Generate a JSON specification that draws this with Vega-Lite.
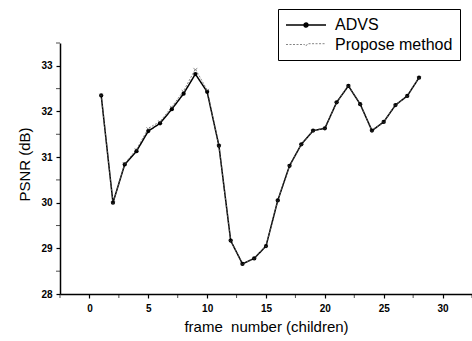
{
  "$schema": "https://vega.github.io/schema/vega-lite/v6.json",
  "autosize": {"type": "none"},
  "padding": {"left": 60, "top": 43, "right": 0, "bottom": 47},
  "width": 412,
  "height": 251,
  "background": "white",
  "config": {
    "view": {"stroke": null},
    "font": "Liberation Sans",
    "axis": {
      "domainColor": "black", "domainWidth": 1.5, "tickColor": "black", "tickWidth": 1.2,
      "labelColor": "black", "titleColor": "black", "grid": false,
      "labelFont": "Liberation Sans", "labelFontSize": 10, "labelFontWeight": "bold",
      "titleFont": "Liberation Sans", "titleFontSize": 15, "titleFontWeight": "normal"
    }
  },
  "data": {"values": [
    {"frame": 1, "psnr": 32.35, "series": "ADVS"},
    {"frame": 2, "psnr": 30.0, "series": "ADVS"},
    {"frame": 3, "psnr": 30.84, "series": "ADVS"},
    {"frame": 4, "psnr": 31.13, "series": "ADVS"},
    {"frame": 5, "psnr": 31.57, "series": "ADVS"},
    {"frame": 6, "psnr": 31.74, "series": "ADVS"},
    {"frame": 7, "psnr": 32.05, "series": "ADVS"},
    {"frame": 8, "psnr": 32.39, "series": "ADVS"},
    {"frame": 9, "psnr": 32.82, "series": "ADVS"},
    {"frame": 10, "psnr": 32.43, "series": "ADVS"},
    {"frame": 11, "psnr": 31.25, "series": "ADVS"},
    {"frame": 12, "psnr": 29.17, "series": "ADVS"},
    {"frame": 13, "psnr": 28.66, "series": "ADVS"},
    {"frame": 14, "psnr": 28.78, "series": "ADVS"},
    {"frame": 15, "psnr": 29.05, "series": "ADVS"},
    {"frame": 16, "psnr": 30.05, "series": "ADVS"},
    {"frame": 17, "psnr": 30.81, "series": "ADVS"},
    {"frame": 18, "psnr": 31.28, "series": "ADVS"},
    {"frame": 19, "psnr": 31.58, "series": "ADVS"},
    {"frame": 20, "psnr": 31.63, "series": "ADVS"},
    {"frame": 21, "psnr": 32.2, "series": "ADVS"},
    {"frame": 22, "psnr": 32.56, "series": "ADVS"},
    {"frame": 23, "psnr": 32.16, "series": "ADVS"},
    {"frame": 24, "psnr": 31.58, "series": "ADVS"},
    {"frame": 25, "psnr": 31.77, "series": "ADVS"},
    {"frame": 26, "psnr": 32.14, "series": "ADVS"},
    {"frame": 27, "psnr": 32.34, "series": "ADVS"},
    {"frame": 28, "psnr": 32.74, "series": "ADVS"},
    {"frame": 1, "psnr": 32.36, "series": "Propose method"},
    {"frame": 2, "psnr": 30.0, "series": "Propose method"},
    {"frame": 3, "psnr": 30.86, "series": "Propose method"},
    {"frame": 4, "psnr": 31.17, "series": "Propose method"},
    {"frame": 5, "psnr": 31.63, "series": "Propose method"},
    {"frame": 6, "psnr": 31.78, "series": "Propose method"},
    {"frame": 7, "psnr": 32.1, "series": "Propose method"},
    {"frame": 8, "psnr": 32.45, "series": "Propose method"},
    {"frame": 9, "psnr": 32.93, "series": "Propose method"},
    {"frame": 10, "psnr": 32.47, "series": "Propose method"},
    {"frame": 11, "psnr": 31.25, "series": "Propose method"},
    {"frame": 12, "psnr": 29.17, "series": "Propose method"},
    {"frame": 13, "psnr": 28.66, "series": "Propose method"},
    {"frame": 14, "psnr": 28.78, "series": "Propose method"},
    {"frame": 15, "psnr": 29.05, "series": "Propose method"},
    {"frame": 16, "psnr": 30.05, "series": "Propose method"},
    {"frame": 17, "psnr": 30.81, "series": "Propose method"},
    {"frame": 18, "psnr": 31.28, "series": "Propose method"},
    {"frame": 19, "psnr": 31.58, "series": "Propose method"},
    {"frame": 20, "psnr": 31.63, "series": "Propose method"},
    {"frame": 21, "psnr": 32.2, "series": "Propose method"},
    {"frame": 22, "psnr": 32.56, "series": "Propose method"},
    {"frame": 23, "psnr": 32.16, "series": "Propose method"},
    {"frame": 24, "psnr": 31.58, "series": "Propose method"},
    {"frame": 25, "psnr": 31.77, "series": "Propose method"},
    {"frame": 26, "psnr": 32.14, "series": "Propose method"},
    {"frame": 27, "psnr": 32.34, "series": "Propose method"},
    {"frame": 28, "psnr": 32.74, "series": "Propose method"}
  ]},
  "layer": [
    {
      "mark": {"type": "line", "clip": true},
      "encoding": {
        "x": {"field": "frame", "type": "quantitative", "scale": {"domain": [-2.5, 32.5], "nice": false, "zero": false},
          "axis": {"values": [0, 5, 10, 15, 20, 25, 30], "title": "frame\u00a0 number (children)", "tickSize": 4, "labelPadding": 5, "titlePadding": 6}},
        "y": {"field": "psnr", "type": "quantitative", "scale": {"domain": [28, 33.5], "nice": false, "zero": false},
          "axis": {"values": [28, 29, 30, 31, 32, 33], "title": "PSNR (dB)", "tickSize": 4, "labelPadding": 4, "titlePadding": 8, "titleY": 121}},
        "color": {"field": "series", "type": "nominal", "scale": {"domain": ["ADVS", "Propose method"], "range": ["black", "#666666"]},
          "legend": {"title": null, "orient": "none", "legendX": 218, "legendY": -34, "strokeColor": "black", "padding": 7,
            "labelFont": "Liberation Sans", "labelFontSize": 16, "labelColor": "black", "labelOffset": 32,
            "symbolSize": 256, "symbolStrokeWidth": 1.2, "rowPadding": 3,
            "symbolType": "M-1,0H4",
            "encode": {"symbols": {"update": {
              "fill": {"signal": "datum.value == 'ADVS' ? 'black' : 'transparent'"},
              "strokeDash": {"signal": "datum.value == 'ADVS' ? [1,0] : [3,1.5]"},
              "strokeWidth": {"signal": "datum.value == 'ADVS' ? 1.3 : 0.8"},
              "shape": {"signal": "datum.value == 'ADVS' ? 'M-1,0H4M1.25,0A0.25,0.25,0,1,1,1.75,0A0.25,0.25,0,1,1,1.25,0' : 'M-1,0H1.3L1.5,0.2L1.7,-0.1H4'"}
            }}}}},
        "strokeDash": {"field": "series", "type": "nominal", "scale": {"domain": ["ADVS", "Propose method"], "range": [[1, 0], [2, 1.5]]}, "legend": null},
        "strokeWidth": {"field": "series", "type": "nominal", "scale": {"domain": ["ADVS", "Propose method"], "range": [1.5, 0.8]}, "legend": null}
      }
    },
    {
      "transform": [{"filter": "datum.series == 'ADVS'"}],
      "mark": {"type": "point", "filled": true, "color": "black", "size": 18, "opacity": 1},
      "encoding": {"x": {"field": "frame", "type": "quantitative"}, "y": {"field": "psnr", "type": "quantitative"}}
    },
    {
      "transform": [{"filter": "datum.series == 'Propose method'"}],
      "mark": {"type": "point", "shape": "M-1,-0.6L0,0.6L1,-0.6", "filled": false, "color": "#444444", "size": 14, "strokeWidth": 0.8},
      "encoding": {"x": {"field": "frame", "type": "quantitative"}, "y": {"field": "psnr", "type": "quantitative"}}
    },
    {
      "data": {"values": [{"v": -2.5}, {"v": 2.5}, {"v": 7.5}, {"v": 12.5}, {"v": 17.5}, {"v": 22.5}, {"v": 27.5}, {"v": 32.5}]},
      "mark": {"type": "tick", "orient": "vertical", "color": "black", "size": 4, "thickness": 1},
      "encoding": {"x": {"field": "v", "type": "quantitative"}, "y": {"datum": 28}, "yOffset": {"value": 2}}
    },
    {
      "data": {"values": [{"v": 28.5}, {"v": 29.5}, {"v": 30.5}, {"v": 31.5}, {"v": 32.5}, {"v": 33.5}]},
      "mark": {"type": "tick", "orient": "horizontal", "color": "black", "size": 4, "thickness": 1},
      "encoding": {"y": {"field": "v", "type": "quantitative"}, "x": {"datum": -2.5}, "xOffset": {"value": -2}}
    }
  ]
}
